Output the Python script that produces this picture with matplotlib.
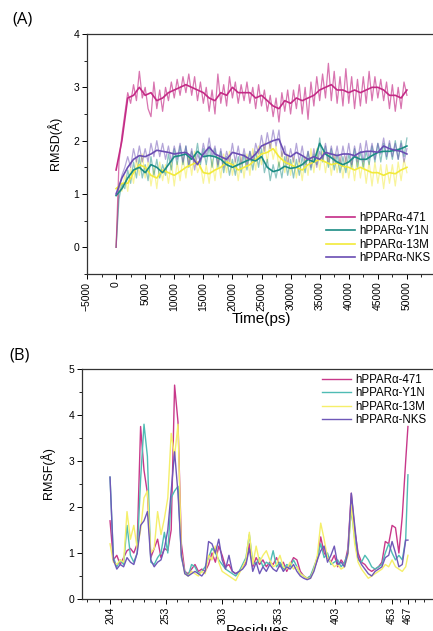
"""
RMSD (A) and RMSF (B) of the four hPPARα systems, two stacked panels.
"""
import numpy as np, matplotlib
matplotlib.use("Agg")
import matplotlib.pyplot as plt
from matplotlib.ticker import MultipleLocator, FixedLocator
plt.rcParams.update({"font.family": ["Liberation Sans", "DejaVu Sans"], "font.size": 7})

NAMES = ["hPPARα-471", "hPPARα-Y1N", "hPPARα-13M", "hPPARα-NKS"]
COL_A = ["#c42b86", "#1b8c84", "#f2ea3a", "#6a4db3"]
COL_B = ["#c8388a", "#4fbcb4", "#f5ef6a", "#6f58b8"]

# ----- (A) RMSD, raw every 500 ps -----
t_raw = np.arange(0, 50001, 500)
rmsd_471_raw = [0.0, 1.6, 2.1, 2.5, 2.9, 2.7, 3.05, 2.75, 3.3, 2.8,
                3.0, 2.6, 2.45, 3.1, 2.6, 2.95, 2.55, 3.0, 2.75, 3.1,
                2.8, 3.15, 2.85, 3.2, 2.9, 3.25, 2.85, 3.2, 2.75, 3.1,
                2.7, 3.0, 2.55, 2.95, 2.5, 3.25, 2.7, 3.05, 2.65, 3.2,
                2.8, 3.1, 2.7, 3.05, 2.75, 3.1, 2.7, 3.0, 2.6, 3.05,
                2.65, 2.95, 2.55, 2.85, 2.45, 2.8, 2.35, 2.9, 2.55, 2.95,
                2.5, 2.95, 2.6, 3.05, 2.5, 3.0, 2.4, 3.1, 2.65, 3.2,
                2.75, 3.25, 2.8, 3.45, 2.75, 3.3, 2.7, 3.2, 2.65, 3.35,
                2.7, 3.2, 2.6, 3.15, 2.65, 3.2, 2.7, 3.3, 2.75, 3.2,
                2.8, 3.15, 2.75, 3.1, 2.6, 3.05, 2.55, 3.0, 2.6, 3.1,
                2.85]
rmsd_y1n_raw = [0.0, 0.9, 1.2, 1.1, 1.45, 1.2, 1.6, 1.3, 1.7, 1.3,
                1.55, 1.25, 1.7, 1.35, 1.65, 1.3, 1.55, 1.35, 1.75, 1.45,
                1.85, 1.55, 1.9, 1.55, 1.9, 1.5, 1.8, 1.6, 1.95, 1.55,
                1.85, 1.55, 1.9, 1.5, 1.85, 1.5, 1.8, 1.4, 1.7, 1.35,
                1.65, 1.35, 1.7, 1.4, 1.75, 1.45, 1.8, 1.45, 1.8, 1.5,
                1.85, 1.4, 1.65, 1.25, 1.55, 1.3, 1.6, 1.3, 1.7, 1.35,
                1.65, 1.3, 1.65, 1.35, 1.7, 1.4, 1.8, 1.45, 1.75, 1.55,
                2.05, 1.6, 1.9, 1.5, 1.85, 1.45, 1.75, 1.4, 1.7, 1.4,
                1.75, 1.5, 1.85, 1.5, 1.8, 1.5, 1.8, 1.55, 1.9, 1.6,
                1.95, 1.6, 1.95, 1.65, 1.95, 1.65, 2.0, 1.65, 2.0, 1.7,
                2.05]
rmsd_13m_raw = [0.0, 1.2, 1.05, 1.35, 1.05, 1.5, 1.2, 1.65, 1.35, 1.75,
                1.3, 1.6, 1.15, 1.5, 1.1, 1.6, 1.25, 1.55, 1.2, 1.6,
                1.15, 1.6, 1.25, 1.7, 1.3, 1.75, 1.35, 1.8, 1.4, 1.55,
                1.2, 1.55, 1.2, 1.65, 1.25, 1.7, 1.3, 1.75, 1.4, 1.8,
                1.35, 1.65, 1.25, 1.7, 1.3, 1.75, 1.35, 1.85, 1.45, 1.9,
                1.55, 1.95, 1.6, 2.0, 1.65, 1.9, 1.5, 1.8, 1.4, 1.75,
                1.35, 1.7, 1.3, 1.65, 1.25, 1.7, 1.35, 1.85, 1.4, 1.85,
                1.45, 1.8, 1.4, 1.75, 1.35, 1.75, 1.4, 1.7, 1.3, 1.7,
                1.3, 1.65, 1.25, 1.7, 1.3, 1.65, 1.2, 1.6, 1.15, 1.6,
                1.2, 1.55, 1.1, 1.55, 1.2, 1.55, 1.15, 1.6, 1.25, 1.65,
                1.4]
rmsd_nks_raw = [0.0, 1.1, 1.35, 1.5, 1.7, 1.5, 1.85, 1.6, 1.9, 1.6,
                1.85, 1.6, 1.95, 1.7, 2.0, 1.7, 1.95, 1.65, 1.9, 1.6,
                1.9, 1.65, 1.95, 1.6, 1.9, 1.55, 1.85, 1.45, 1.75, 1.6,
                1.95, 1.7, 2.05, 1.7, 1.9, 1.55, 1.85, 1.5, 1.8, 1.6,
                1.95, 1.6, 1.9, 1.55, 1.85, 1.55, 1.8, 1.6, 1.95, 1.75,
                2.1, 1.8, 2.15, 1.85, 2.2, 1.9, 2.2, 1.7, 1.9, 1.55,
                1.85, 1.6, 1.95, 1.6, 1.9, 1.55, 1.8, 1.5, 1.85, 1.5,
                1.8, 1.65, 1.95, 1.6, 1.9, 1.6, 1.9, 1.55, 1.9, 1.6,
                1.95, 1.55, 1.9, 1.6, 1.95, 1.6, 2.0, 1.65, 1.95, 1.65,
                1.95, 1.75, 2.05, 1.7, 2.0, 1.7, 1.95, 1.65, 1.95, 1.6,
                1.85]
# smoothed traces every 1000 ps
t_sm = np.arange(0, 50001, 1000)
rmsd_471_sm = [1.45, 2.0, 2.8, 2.85, 3.0, 2.85, 2.9, 2.75, 2.8, 2.9,
               2.95, 3.0, 3.05, 3.0, 2.95, 2.9, 2.8, 2.75, 2.9, 2.85,
               3.0, 2.9, 2.9, 2.9, 2.8, 2.85, 2.75, 2.65, 2.6, 2.75,
               2.7, 2.8, 2.75, 2.8, 2.85, 2.95, 3.0, 3.05, 2.95, 2.95,
               2.9, 2.95, 2.9, 2.95, 3.0, 3.0, 2.95, 2.85, 2.85, 2.8,
               2.95]
rmsd_y1n_sm = [0.97, 1.1, 1.3, 1.45, 1.5, 1.4, 1.55, 1.5, 1.4, 1.55,
               1.7, 1.72, 1.75, 1.65, 1.8, 1.7, 1.72, 1.7, 1.65, 1.55,
               1.5, 1.55, 1.6, 1.65, 1.62, 1.7, 1.5, 1.42, 1.45, 1.52,
               1.48, 1.5, 1.55, 1.65, 1.6, 1.95, 1.75, 1.68, 1.6, 1.55,
               1.6, 1.7, 1.65, 1.65, 1.72, 1.78, 1.8, 1.8, 1.82, 1.85,
               1.9]
rmsd_13m_sm = [1.1, 1.2, 1.2, 1.4, 1.55, 1.5, 1.35, 1.3, 1.45, 1.4,
               1.35, 1.42, 1.5, 1.55, 1.6, 1.4, 1.38, 1.45, 1.5, 1.6,
               1.55, 1.45, 1.5, 1.55, 1.65, 1.75, 1.78, 1.85, 1.7, 1.6,
               1.55, 1.5, 1.45, 1.55, 1.6, 1.65, 1.6, 1.55, 1.58, 1.52,
               1.5, 1.45, 1.5, 1.45, 1.4, 1.4, 1.35, 1.4, 1.38, 1.45,
               1.5]
rmsd_nks_sm = [1.0, 1.3, 1.5, 1.65, 1.72, 1.7, 1.75, 1.82, 1.8, 1.78,
               1.75, 1.77, 1.78, 1.7, 1.55, 1.75, 1.88, 1.75, 1.7, 1.65,
               1.78, 1.75, 1.72, 1.65, 1.75, 1.9, 1.95, 2.0, 2.03, 1.75,
               1.7, 1.78, 1.72, 1.65, 1.7, 1.65, 1.78, 1.75, 1.72, 1.75,
               1.75, 1.72, 1.78, 1.8, 1.8, 1.78, 1.9, 1.85, 1.82, 1.8,
               1.75]

# ----- (B) RMSF per residue (every 3rd residue + C-terminus) -----
res = list(range(204, 466, 3)) + [467]
rmsf_471 = [1.7, 0.85, 0.95, 0.75, 0.9, 1.05, 1.1, 1.0, 1.2, 3.75,
            2.8, 2.3, 0.9, 1.1, 1.3, 0.9, 1.1, 1.05, 1.5, 4.65,
            3.85, 1.2, 0.6, 0.55, 0.65, 0.75, 0.6, 0.65, 0.6, 0.75,
            1.0, 0.8, 1.15, 0.95, 0.7, 0.75, 0.6, 0.55, 0.6, 0.7,
            0.8, 1.2, 0.7, 0.9, 0.75, 0.85, 0.7, 0.8, 0.75, 0.9,
            0.7, 0.8, 0.6, 0.75, 0.9, 0.85, 0.6, 0.5, 0.45, 0.5,
            0.65, 0.85, 1.35, 1.0, 0.9, 0.8, 0.95, 0.7, 0.85, 0.75,
            1.1, 2.3, 1.5, 1.0, 0.8, 0.75, 0.65, 0.6, 0.65, 0.7,
            0.8, 1.25, 1.2, 1.6, 1.55, 1.0, 1.8, 3.0, 3.75]
rmsf_y1n = [2.65, 0.9, 0.7, 0.85, 0.75, 1.6, 0.95, 0.8, 1.0, 2.6,
            3.8, 3.1, 0.8, 0.75, 0.9, 1.0, 1.45, 1.0, 2.2, 2.35,
            2.45, 0.9, 0.6, 0.5, 0.75, 0.7, 0.55, 0.6, 0.7, 0.9,
            1.1, 1.0, 0.85, 0.75, 0.65, 0.6, 0.55, 0.5, 0.6, 0.75,
            0.9, 1.4, 0.8, 0.75, 0.9, 0.7, 0.8, 0.75, 1.05, 0.7,
            0.8, 0.65, 0.75, 0.7, 0.85, 0.7, 0.55, 0.5, 0.45, 0.5,
            0.7, 0.9, 1.2, 0.9, 1.0, 0.75, 0.8, 0.85, 0.7, 0.8,
            1.0, 1.95, 1.3, 0.85, 0.8, 0.95, 0.85, 0.7, 0.65, 0.7,
            0.75, 1.0, 1.2, 1.0, 0.85, 0.95, 0.85, 1.3, 2.7]
rmsf_13m = [1.2, 0.8, 0.75, 0.85, 0.8, 1.9, 1.3, 1.6, 1.1, 1.5,
            2.2, 2.35, 1.0, 1.1, 1.9, 1.4, 1.75, 2.2, 3.6, 3.1,
            3.8, 1.0, 0.55, 0.5, 0.6, 0.55, 0.5, 0.6, 0.55, 0.95,
            0.85, 1.15, 0.8, 0.6, 0.55, 0.5, 0.45, 0.4, 0.55, 0.7,
            0.85, 1.45, 0.75, 1.15, 0.8, 0.95, 1.05, 0.85, 0.7, 0.75,
            0.95, 0.7, 0.65, 0.8, 0.65, 0.7, 0.55, 0.5, 0.45, 0.45,
            0.65, 0.95, 1.65, 1.3, 0.9, 0.8, 0.7, 0.75, 0.65, 0.7,
            0.95, 2.05, 1.2, 0.8, 0.65, 0.55, 0.45, 0.5, 0.55, 0.6,
            0.65, 0.75, 0.7, 0.85, 0.7, 0.65, 0.6, 0.7, 0.95]
rmsf_nks = [2.65, 0.85, 0.65, 0.75, 0.7, 0.9, 0.8, 0.75, 1.0, 1.6,
            1.7, 1.9, 0.85, 0.7, 0.8, 0.85, 1.1, 1.5, 2.35, 3.2,
            2.3, 0.95, 0.55, 0.5, 0.55, 0.6, 0.55, 0.5, 0.6, 1.25,
            1.2, 1.0, 1.3, 0.85, 0.65, 0.95, 0.6, 0.55, 0.6, 0.65,
            0.75, 1.1, 0.6, 0.8, 0.55, 0.7, 0.6, 0.75, 0.65, 0.6,
            0.75, 0.6, 0.7, 0.65, 0.75, 0.6, 0.5, 0.45, 0.42, 0.45,
            0.6, 0.85, 1.05, 1.15, 0.8, 0.95, 1.15, 0.75, 0.8, 0.7,
            1.0, 2.3, 1.6, 0.9, 0.75, 0.65, 0.55, 0.5, 0.6, 0.65,
            0.7, 0.9, 0.95, 1.25, 1.0, 0.7, 0.75, 1.28, 1.28]
res_ticks = [204, 253, 303, 353, 403, 453, 467]

W, H = 433, 631
fig = plt.figure(figsize=(W/100, H/100), dpi=100)

def style(ax):
    ax.spines["right"].set_visible(False)
    for s in ax.spines.values(): s.set_linewidth(0.9); s.set_color("#333333")
    ax.tick_params(which="major", direction="out", length=3.5, width=0.7, labelsize=7.5, pad=2)
    ax.tick_params(which="minor", direction="out", length=2, width=0.6)
    ax.tick_params(top=False, right=False, which="both")

LEG = dict(frameon=False, fontsize=8.3, handlelength=2.5, handletextpad=0.35, labelspacing=0.12,
           borderaxespad=0, borderpad=0)

# ----- panel A -----
ax1 = fig.add_axes([87/W, 1-274/H, (436-87)/W, 240/H])
raws = [rmsd_471_raw, rmsd_y1n_raw, rmsd_13m_raw, rmsd_nks_raw]
sms = [rmsd_471_sm, rmsd_y1n_sm, rmsd_13m_sm, rmsd_nks_sm]
draw = [2, 1, 3, 0]
for i in draw:
    ax1.plot(t_raw, raws[i], color=COL_A[i], lw=0.9, alpha=0.5 if i else 0.65)
for i in draw:
    ax1.plot(t_sm, sms[i], color=COL_A[i], lw=1.2, label=NAMES[i])
ax1.set_xlim(-5000, 55000); ax1.set_ylim(-0.5, 4)
ax1.xaxis.set_major_locator(FixedLocator(np.arange(-5000, 50001, 5000)))
ax1.xaxis.set_minor_locator(MultipleLocator(2500))
ax1.yaxis.set_major_locator(FixedLocator([0, 1, 2, 3, 4]))
ax1.yaxis.set_minor_locator(MultipleLocator(0.5))
style(ax1)
for lb in ax1.get_xticklabels(): lb.set_rotation(90)
ax1.set_xlabel("Time(ps)", fontsize=11, labelpad=1)
ax1.set_ylabel("RMSD(Å)", fontsize=9)
ax1.yaxis.set_label_coords(-0.072, 0.546)
h, l = ax1.get_legend_handles_labels()
order = [l.index(n) for n in NAMES]
ax1.legend([h[i] for i in order], NAMES, loc="upper left",
           bbox_to_anchor=((326-87)/349, 1-(212-34)/240), **LEG)
fig.text(12/W, 1-20/H, "(A)", fontsize=12, va="center", ha="left", family=["Open Sans", "DejaVu Sans"])

# ----- panel B -----
ax2 = fig.add_axes([81.7/W, 1-599/H, (434-81.7)/W, 230/H])
for y, c, n in zip([rmsf_471, rmsf_y1n, rmsf_13m, rmsf_nks], COL_B, NAMES):
    ax2.plot(res, y, color=c, lw=1.0, label=n)
ax2.set_xlim(179, 490); ax2.set_ylim(0, 5)
ax2.xaxis.set_major_locator(FixedLocator(res_ticks))
ax2.xaxis.set_minor_locator(FixedLocator(list(range(184, 250, 10)) + list(range(263, 450, 10)) + [460, 473, 481]))
ax2.yaxis.set_major_locator(FixedLocator([0, 1, 2, 3, 4, 5]))
ax2.yaxis.set_minor_locator(MultipleLocator(0.5))
style(ax2)
for lb in ax2.get_xticklabels(): lb.set_rotation(90)
ax2.set_xlabel("Residues", fontsize=11, labelpad=0)
ax2.set_ylabel("RMSF(Å)", fontsize=9)
ax2.yaxis.set_label_coords(-0.076, 0.548)
ax2.legend(loc="upper left", bbox_to_anchor=((322-81.7)/352.3, 1-(374-369)/230), **LEG)
fig.text(9/W, 1-355/H, "(B)", fontsize=12, va="center", ha="left", family=["Open Sans", "DejaVu Sans"])

fig.savefig("out.png", dpi=100)
